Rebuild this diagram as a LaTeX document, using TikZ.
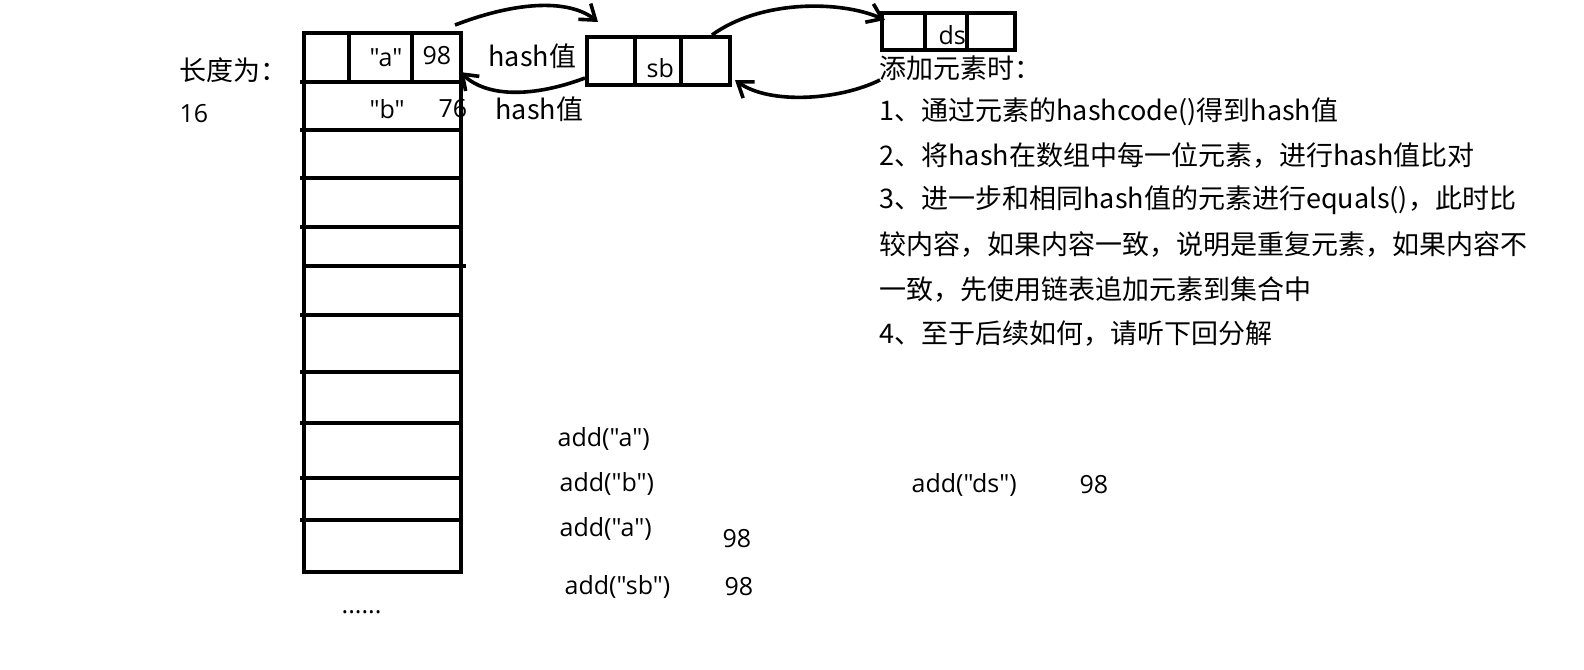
\documentclass[tikz,border=0pt]{standalone}
\usepackage{fontspec}
\usetikzlibrary{arrows.meta}
\setmainfont{Noto Sans CJK SC}
\newfontfamily\lat{Open Sans}
\begin{document}
\begin{tikzpicture}[x=0.5pt,y=-0.5pt,line width=1.6pt,
  t/.style={anchor=west,inner sep=0pt,font=\fontsize{13.5}{15}\selectfont},
  tl/.style={t,font=\fontsize{12.5}{15}\selectfont\lat},
  arr/.style={-{Straight Barb[length=7pt,width=10pt]},line width=1.8pt}]
\useasboundingbox (0,0) rectangle (1584,669);
% array
\draw (304,33) rectangle (461,572);
\foreach \y in {82,130,178,227,315,372,423,478,520} \draw (300,\y) -- (461,\y);
\draw (304,266) -- (466,266);
\draw (349,33) -- (349,82); \draw (412,33) -- (412,82);
% sb box
\draw (587,37) rectangle (730,85); \draw (635,37)--(635,85); \draw (681,37)--(681,85);
% ds box
\draw (882,13) rectangle (1015,50); \draw (925,13)--(925,50); \draw (967,13)--(967,50);
% arrows
\coordinate (a1) at (455,25); \coordinate (a2) at (598,22);
\draw[arr] (a1) .. controls (520,0) and (570,0) .. (a2);
\coordinate (b1) at (712,35); \coordinate (b2) at (885,20);
\draw[arr] (b1) .. controls (760,0) and (840,0) .. (b2);
\coordinate (c1) at (880,80); \coordinate (c2) at (735,80);
\draw[arr] (c1) .. controls (840,100) and (770,105) .. (c2);
\coordinate (d1) at (585,78); \coordinate (d2) at (460,72);
\draw[arr] (d1) .. controls (540,95) and (490,100) .. (d2);
% texts
\node[t] (l1) at (178,70) {长度为：};
\node[tl] (l2) at (178,114) {16};
\node[tl] at (368,58) {"a"};
\node[tl] at (421,56) {98};
\node[tl] at (368,109) {"b"};
\node[tl] at (437,109) {76};
\node[t] at (487,56) {hash值};
\node[t] at (494,109) {hash值};
\node[tl] at (645,68) {sb};
\node[tl] at (937,35) {ds};
\node[t] at (878,68) {添加元素时：};
\node[t] at (878,112) {1、通过元素的hashcode()得到hash值};
\node[t] at (878,156) {2、将hash在数组中每一位元素，进行hash值比对};
\node[t] at (878,200) {3、进一步和相同hash值的元素进行equals()，此时比};
\node[t] at (878,245) {较内容，如果内容一致，说明是重复元素，如果内容不};
\node[t] at (878,290) {一致，先使用链表追加元素到集合中};
\node[t] at (878,334) {4、至于后续如何，请听下回分解};
\node[tl] at (556,439) {add("a")};
\node[tl] at (558,484) {add("b")};
\node[tl] at (558,529) {add("a")};
\node[tl] at (721,539) {98};
\node[tl] at (563,587) {add("sb")};
\node[tl] at (723,587) {98};
\node[tl] at (910,485) {add("ds")};
\node[tl] at (1078,485) {98};
\node[tl] at (340,612) {......};
\end{tikzpicture}
\end{document}
